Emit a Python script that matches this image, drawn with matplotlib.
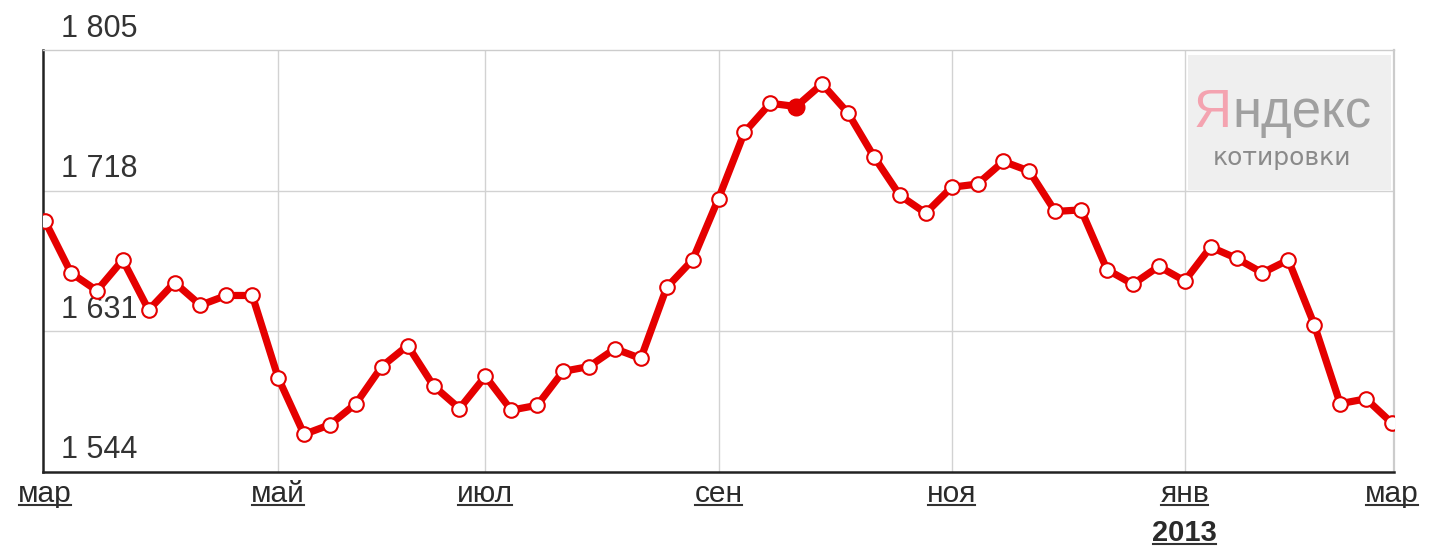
import matplotlib
matplotlib.use("Agg")
import matplotlib.pyplot as plt
from matplotlib.patches import Rectangle
from matplotlib.lines import Line2D
from matplotlib.transforms import IdentityTransform, blended_transform_factory

# weekly quotes, mar 2012 - mar 2013
prices = [1699, 1667, 1656, 1675, 1644, 1661, 1647, 1653, 1653, 1602,
          1567, 1573, 1586, 1609, 1622, 1597, 1583, 1603, 1582, 1585,
          1606, 1609, 1620, 1614, 1658, 1675, 1713, 1754, 1772, 1770,
          1784, 1766, 1739, 1715, 1704, 1720, 1722, 1736, 1730, 1705,
          1706, 1669, 1660, 1671, 1662, 1683, 1676, 1667, 1675, 1635,
          1586, 1589, 1574]
month_labels = ["мар", "май", "июл", "сен", "ноя", "янв", "мар"]
month_pos = [0, 9, 17, 26, 35, 44, 52]
year_label = "2013"
year_pos = 44
y_levels = [1544, 1631, 1718, 1805]
y_texts = ["1 544", "1 631", "1 718", "1 805"]
highlight = 29

plt.rcParams['font.family'] = ['Liberation Sans', 'DejaVu Sans']

fig = plt.figure(figsize=(14.29, 5.47), dpi=100)
ax = fig.add_axes([43 / 1429, 1 - 471.5 / 547, 1351 / 1429, 421.5 / 547])

weeks = list(range(len(prices)))
red = "#e50000"
ax.plot(weeks, prices, color=red, lw=5.2, zorder=4, solid_joinstyle="round")
ax.plot(weeks, prices, ls="none", marker="o", ms=10.5, mfc="white", mec=red,
        mew=1.5, zorder=5)
ax.plot([weeks[highlight]], [prices[highlight]], ls="none", marker="o", ms=12,
        color=red, zorder=6)

ax.set_xlim(-0.08, 52.08)
ax.set_ylim(y_levels[0], y_levels[-1])

# grid
for p in month_pos[1:-1]:
    ax.axvline(p, color="#d2d2d2", lw=1, zorder=1)
for v in y_levels[1:-1]:
    ax.axhline(v, color="#d2d2d2", lw=1, zorder=1)

ax.spines["left"].set_color("#222222")
ax.spines["left"].set_linewidth(1.8)
ax.spines["bottom"].set_color("#222222")
ax.spines["bottom"].set_linewidth(1.8)
ax.spines["top"].set_color("#cccccc")
ax.spines["top"].set_linewidth(1)
ax.spines["right"].set_color("#cccccc")
ax.spines["right"].set_linewidth(1.6)

ax.set_yticks([])
ax.set_xticks(month_pos)
ax.set_xticklabels(month_labels, fontsize=21.5, color="#2a2a2a")
ax.tick_params(axis="x", length=0, pad=6)

# y level labels above the lines
blend = blended_transform_factory(ax.transAxes, ax.transData)
for v, t in zip(y_levels, y_texts):
    ax.text(0.0135, v + 8.3, t, transform=blend, ha="left", va="baseline",
            fontsize=22, color="#333333", zorder=2, clip_on=False)

year_txt = ax.text(year_pos, -0.145, year_label,
                   transform=blended_transform_factory(ax.transData, ax.transAxes),
                   ha="center", va="center", fontsize=21, fontweight="bold",
                   color="#2a2a2a")

# logo box
ax.add_patch(Rectangle((0.8475, 0.668), 0.1503, 0.32, transform=ax.transAxes,
                       facecolor="#efefef", edgecolor="none", zorder=1.5))
ax.text(0.8795, 0.817, "Я", transform=ax.transAxes, ha="right", va="baseline",
        fontsize=38, color="#f4a3b0", zorder=2)
ax.text(0.8800, 0.817, "ндекс", transform=ax.transAxes, ha="left", va="baseline",
        fontsize=38, color="#a0a0a0", zorder=2)
ax.text(0.917, 0.727, "котировки", transform=ax.transAxes, ha="center",
        va="baseline", fontsize=18, color="#8a8a8a", family=['DejaVu Sans'],
        zorder=2)

# underline the date labels
fig.canvas.draw()
renderer = fig.canvas.get_renderer()
for t in ax.get_xticklabels() + [year_txt]:
    bb = t.get_window_extent(renderer)
    y = bb.y0 + 3
    fig.add_artist(Line2D([bb.x0 + 1, bb.x1 - 1], [y, y], transform=IdentityTransform(),
                          color="#333333", lw=1.5))

fig.savefig("out.png", dpi=100)
